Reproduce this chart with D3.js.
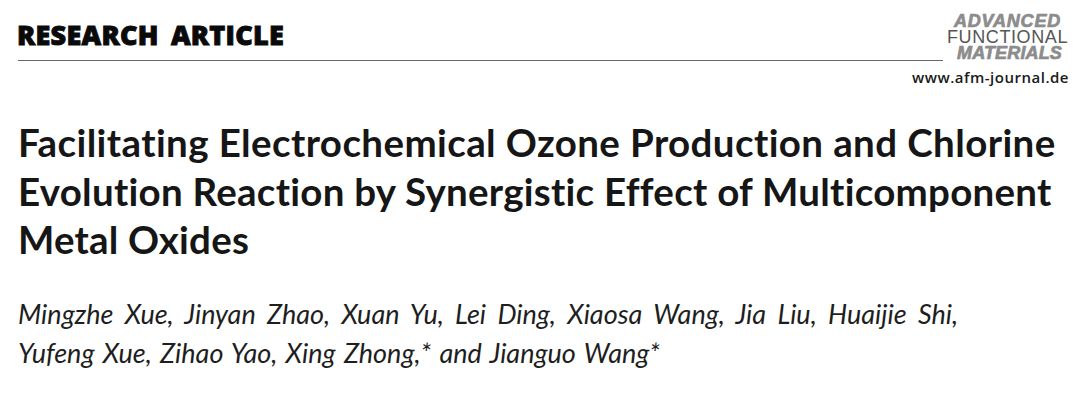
<!DOCTYPE html>
<html>
<head>
<meta charset="utf-8">
<script src="https://cdn.jsdelivr.net/npm/d3@7"></script>
<style>
html, body { margin: 0; padding: 0; background: #fff; }
</style>
</head>
<body>
<div id="chart"></div>
<script>
const width = 1080, height = 414;

const sectionLabel = ['RESEARCH ARTICLE'];
const logoLines = ['ADVANCED', 'FUNCTIONAL', 'MATERIALS'];
const journalUrl = ['www.afm-journal.de'];
const titleLines = [
    'Facilitating Electrochemical Ozone Production and Chlorine',
    'Evolution Reaction by Synergistic Effect of Multicomponent',
    'Metal Oxides'
];
const authorLines = [
    'Mingzhe Xue, Jinyan Zhao, Xuan Yu, Lei Ding, Xiaosa Wang, Jia Liu, Huaijie Shi,',
    'Yufeng Xue, Zihao Yao, Xing Zhong,* and Jianguo Wang*'
];

const svg = d3.select('#chart').append('svg')
    .attr('width', width)
    .attr('height', height)
    .style('display', 'block');

function drawText(text, opts) {
    const t = svg.append('text')
        .attr('x', opts.x)
        .attr('y', opts.y)
        .attr('font-family', opts.font)
        .attr('font-size', opts.size)
        .attr('font-weight', opts.weight || 'normal')
        .attr('font-style', opts.style || 'normal')
        .attr('fill', opts.fill || '#1a1a1a')
        .text(text);
    if (opts.stroke) t.attr('stroke', opts.fill).attr('stroke-width', opts.stroke);
    if (opts.wordGap) t.attr('word-spacing', opts.wordGap);
    // stretch to the width measured on the reference
    const extra = opts.w - t.node().getComputedTextLength();
    if (opts.words) {
        t.attr('word-spacing', extra / (text.split(' ').length - 1));
    } else {
        t.attr('letter-spacing', extra / text.length);
    }
    return t;
}

drawText(sectionLabel[0], { x: 17, y: 45, w: 267, wordGap: 5, font: 'Open Sans', size: 27, weight: 800, fill: '#0a0a0a', stroke: 0.9 });

svg.append('line')
    .attr('x1', 18).attr('x2', 943)
    .attr('y1', 60.5).attr('y2', 60.5)
    .attr('stroke', '#666').attr('stroke-width', 1);

const logoBold = { font: 'Liberation Sans', size: 18, weight: 700, style: 'italic', fill: '#8c8c8c', stroke: 0.7 };
drawText(logoLines[0], { ...logoBold, x: 954, y: 27, w: 107 });
drawText(logoLines[1], { x: 947, y: 43, w: 121, font: 'Liberation Sans', size: 18, fill: '#555' });
drawText(logoLines[2], { ...logoBold, x: 957, y: 59, w: 105 });

drawText(journalUrl[0], { x: 912, y: 83, w: 157, font: 'Open Sans', size: 15, weight: 600, fill: '#1a1a1a' });

const titleWidths = d3.scaleOrdinal().domain(titleLines).range([1039, 1035, 231]);
titleLines.forEach((line, i) => {
    drawText(line, { x: 18, y: 157 + i * 48.5, w: titleWidths(line), font: 'Lato', size: 38.5, weight: 700, fill: '#161616' });
});

const authorWidths = d3.scaleOrdinal().domain(authorLines).range([940, 642]);
authorLines.forEach((line, i) => {
    drawText(line, { x: 18, y: 324 + i * 38.5, w: authorWidths(line), words: true, font: 'Lato', size: 27, style: 'italic', fill: '#1e1e1e' });
});
</script>
</body>
</html>
